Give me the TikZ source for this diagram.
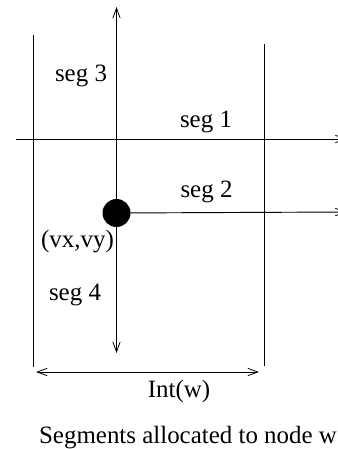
\documentclass[tikz,border=0pt]{standalone}
\usepackage{fontspec}
\setmainfont{Liberation Serif}
\usetikzlibrary{arrows.meta}

\tikzset{every picture/.style={line width=0.75pt}}
\tikzset{
seg line/.style={draw, line width=0.7pt},
open tip/.style={-{Straight Barb[length=7.5pt,width=5.5pt,line width=0.6pt]}},
both tips/.style={{Straight Barb[length=7.5pt,width=5.5pt,line width=0.6pt]}-{Straight Barb[length=7.5pt,width=5.5pt,line width=0.6pt]}},
seg label/.style={anchor=base, inner sep=0.75pt, font=\fontsize{18.7}{22}\selectfont}}

\begin{document}
\begin{tikzpicture}[x=0.75pt,y=0.75pt,yscale=-1,xscale=1]
\useasboundingbox (0,0) rectangle (337,449);

% Interval borders
\coordinate (lefttop) at (33,35);
\coordinate (leftbot) at (33,367);
\coordinate (righttop) at (264,44);
\coordinate (rightbot) at (264,366);
\draw [seg line] (lefttop) -- (leftbot) ;
\draw [seg line] (righttop) -- (rightbot) ;

% Point (vx,vy)
\node (v) [circle, fill=black, minimum size=21pt, inner sep=0pt] at (116.5,213) {};

% Segment ends
\coordinate (s1start) at (16,139);
\coordinate (s1end) at (346.5,139);
\coordinate (s2end) at (346.5,212);
\coordinate (s3end) at (116.5,7);
\coordinate (s4end) at (116.5,353);

%Straight Lines: seg 1
\draw [seg line, open tip] (s1start) -- (s1end) ;
%Straight Lines: seg 2
\draw [seg line, open tip] (v.center) -- (s2end) ;
%Straight Lines: seg 3
\draw [seg line, open tip] (v.center) -- (s3end) ;
%Straight Lines: seg 4
\draw [seg line, open tip] (v.center) -- (s4end) ;

%Straight Lines: Int(w)
\coordinate (intl) at (36,372);
\coordinate (intr) at (259,372);
\draw [seg line, both tips] (intl) -- (intr) ;

% Text Node
\node (lab3) [seg label] at (81,81.5) {seg 3};
% Text Node
\node (lab1) [seg label] at (206,127.5) {seg 1};
% Text Node
\node (lab2) [seg label] at (206.5,197) {seg 2};
% Text Node
\node (labv) [seg label] at (77.5,247) {(vx,vy)};
% Text Node
\node (lab4) [seg label] at (75,300) {seg 4};
% Text Node
\node (labint) [seg label] at (179,397) {Int(w)};
% Text Node
\node (caption) [seg label] at (188,443) {Segments allocated to node w};

\end{tikzpicture}
\end{document}
